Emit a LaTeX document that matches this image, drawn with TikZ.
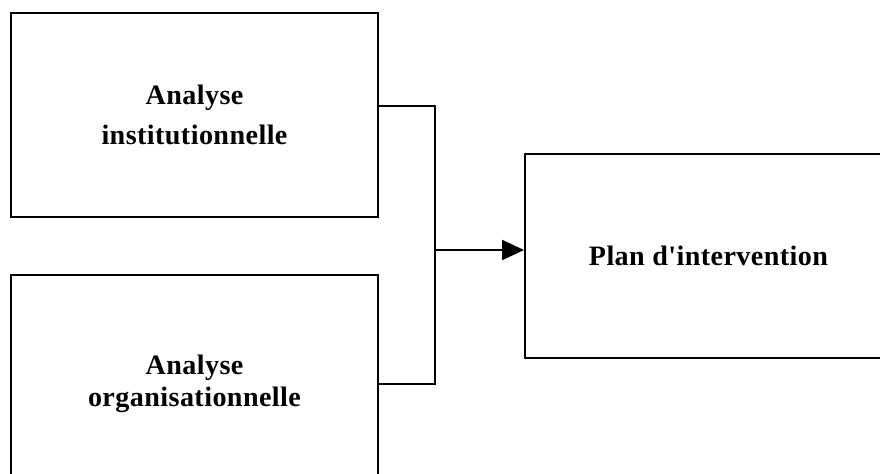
\documentclass[tikz,border=0pt]{standalone}
\usepackage{fontspec}
\newfontfamily\boxfont{Liberation Serif}[LetterSpace=1.5]
\usetikzlibrary{arrows.meta,positioning}

\begin{document}
\begin{tikzpicture}[node distance=1.4cm, every node/.style={font=\boxfont\bfseries\fontsize{20}{28}\selectfont}, bx/.style={draw, line width=1.4pt, align=center, minimum width=9.175cm, minimum height=5.1cm}, wire/.style={line width=1.4pt}, arr/.style={-{Triangle[length=0.55cm,width=0.5cm]}}]
\useasboundingbox (0,0) rectangle (22,-11.825);
\node[bx] (inst) at (4.8625,-2.875) {Analyse\\institutionnelle};
\node[bx, below=of inst, minimum height=5.45cm, font=\boxfont\bfseries\fontsize{20}{23}\selectfont] (orga) {Analyse\\organisationnelle};
\node[bx] (plan) at (17.7125,-6.4) {Plan d'intervention};
\coordinate (j) at (10.875,-6.25);
\draw[wire] ([yshift=0.225cm]inst.east) -| (j) |- (orga.east); \draw[wire, arr] (j) -- ([yshift=0.15cm]plan.west);
\end{tikzpicture}
\end{document}
